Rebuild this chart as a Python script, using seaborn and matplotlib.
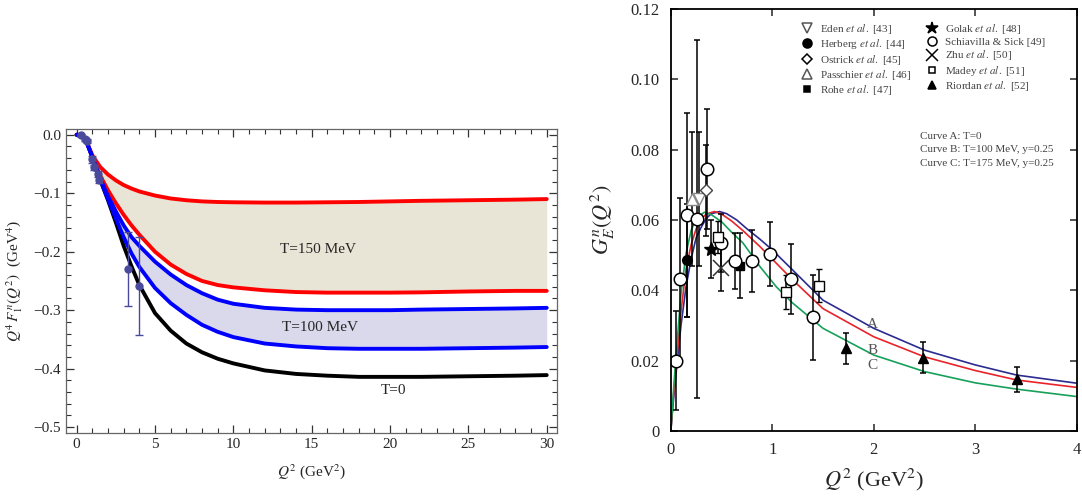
import matplotlib
matplotlib.use('Agg')
import matplotlib.pyplot as plt
import seaborn as sns
import pandas as pd
import numpy as np
from matplotlib.ticker import MultipleLocator, FuncFormatter
from matplotlib.lines import Line2D

# ---------- left panel: Q^4 F1n(Q^2) ----------
q2_left = [0, 0.3, 0.6, 1.0, 1.5, 2.0, 2.5, 3.0, 3.5, 4.0, 5.0, 6.0, 7.0, 8.0, 9.0,
           10, 12, 14, 16, 18, 20, 22, 25, 28, 30]
f1_t0 = [0, -0.001, -0.010, -0.038, -0.077, -0.112, -0.150, -0.190, -0.225, -0.257, -0.305,
         -0.335, -0.357, -0.372, -0.383, -0.391, -0.403, -0.409, -0.412, -0.414, -0.414,
         -0.414, -0.413, -0.412, -0.411]
f1_t150_up = [0, -0.001, -0.010, -0.035, -0.055, -0.068, -0.078, -0.086, -0.092, -0.097, -0.104,
              -0.109, -0.112, -0.114, -0.115, -0.1155, -0.116, -0.116, -0.1155, -0.115, -0.114,
              -0.113, -0.112, -0.111, -0.110]
f1_t150_lo = [0, -0.001, -0.010, -0.038, -0.070, -0.095, -0.117, -0.137, -0.155, -0.171, -0.200,
              -0.222, -0.238, -0.250, -0.257, -0.261, -0.266, -0.269, -0.270, -0.270, -0.270,
              -0.2695, -0.268, -0.267, -0.267]
f1_t100_up = [0, -0.001, -0.010, -0.038, -0.075, -0.105, -0.131, -0.155, -0.175, -0.190, -0.217,
              -0.239, -0.257, -0.271, -0.282, -0.289, -0.296, -0.299, -0.300, -0.300, -0.300,
              -0.299, -0.298, -0.297, -0.296]
f1_t100_lo = [0, -0.001, -0.010, -0.038, -0.076, -0.110, -0.143, -0.175, -0.203, -0.226, -0.262,
              -0.288, -0.308, -0.325, -0.337, -0.346, -0.357, -0.362, -0.365, -0.366, -0.366,
              -0.366, -0.365, -0.364, -0.363]

pts_x = [0.28, 0.53, 0.68, 1.00, 1.12, 1.34, 1.45, 3.28, 4.00]
pts_y = [0.000, -0.007, -0.011, -0.042, -0.056, -0.067, -0.077, -0.229, -0.259]
pts_err = [0.002, 0.003, 0.003, 0.006, 0.005, 0.005, 0.005, 0.063, 0.084]

# ---------- right panel: G_E^n(Q^2) ----------
qa = [0, 0.02, 0.05, 0.1, 0.15, 0.2, 0.25, 0.3, 0.35, 0.4, 0.48, 0.55, 0.65, 0.75, 0.88,
      1.0, 1.2, 1.5, 2.0, 2.5, 3.0, 3.41, 4.0]
ge_a = [0, 0.007, 0.016, 0.030, 0.041, 0.049, 0.055, 0.058, 0.0605, 0.0618, 0.0624, 0.0618,
        0.0600, 0.0575, 0.0545, 0.0515, 0.0458, 0.0372, 0.0292, 0.0230, 0.0188, 0.0159, 0.0136]
qb = [0, 0.02, 0.05, 0.1, 0.15, 0.2, 0.25, 0.3, 0.35, 0.43, 0.5, 0.6, 0.71, 0.88, 1.04,
      1.2, 1.5, 2.0, 2.5, 3.0, 3.41, 4.0]
ge_b = [0, 0.008, 0.018, 0.034, 0.046, 0.053, 0.0575, 0.0603, 0.0617, 0.0624, 0.0617, 0.0597,
        0.0570, 0.0524, 0.0477, 0.0430, 0.0348, 0.0268, 0.0211, 0.0172, 0.0145, 0.0124]
qc = [0, 0.02, 0.05, 0.1, 0.15, 0.2, 0.25, 0.33, 0.4, 0.5, 0.6, 0.71, 0.88, 1.04, 1.2,
      1.5, 2.0, 2.5, 3.0, 3.41, 4.0]
ge_c = [0, 0.009, 0.021, 0.039, 0.0505, 0.057, 0.0605, 0.0622, 0.0615, 0.0595, 0.0565, 0.0535,
        0.0467, 0.0410, 0.0364, 0.0292, 0.0216, 0.0169, 0.0137, 0.0119, 0.0098]

# experiments
eden_x, eden_y, eden_e = [0.276], [0.066], [0.019]
herberg_x, herberg_y, herberg_e = [0.164], [0.0485], [0.016]
ostrick_x, ostrick_y, ostrick_e = [0.35], [0.0684], [0.013]
passchier_x, passchier_y, passchier_e = [0.21], [0.066], [0.019]
rohe_x, rohe_y, rohe_e = [0.68], [0.047], [0.0092]
golak_x, golak_y, golak_e = [0.40], [0.0517], [0.0083]
schiav_x = [0.046, 0.095, 0.164, 0.26, 0.36, 0.49, 0.63, 0.80, 0.975, 1.18, 1.40]
schiav_y = [0.020, 0.0432, 0.0613, 0.0603, 0.0745, 0.0534, 0.0484, 0.0484, 0.0503, 0.0432, 0.0323]
schiav_e = [0.014, 0.023, 0.029, 0.051, 0.017, 0.0083, 0.0080, 0.0088, 0.0092, 0.010, 0.012]
zhu_x, zhu_y, zhu_e = [0.49], [0.0463], [0.0066]
madey_x = [0.46, 1.14, 1.46]
madey_y = [0.0552, 0.0396, 0.0413]
madey_e = [0.0045, 0.0048, 0.0047]
riordan_x = [1.73, 2.49, 3.41]
riordan_y = [0.0235, 0.0209, 0.0147]
riordan_e = [0.0045, 0.0044, 0.0035]

sns.set_theme(style='ticks')
plt.rcParams['font.family'] = ['Liberation Serif', 'DejaVu Serif']
plt.rcParams['mathtext.fontset'] = 'stix'

fig = plt.figure(figsize=(10.82, 5.0), dpi=100)
ax1 = fig.add_axes([0.061, 0.134, 0.454, 0.608])
ax2 = fig.add_axes([0.620, 0.138, 0.375, 0.844])

# ----- left -----
df_left = pd.DataFrame({'q2': q2_left, 't0': f1_t0, 'a_up': f1_t150_up, 'a_lo': f1_t150_lo,
                        'b_up': f1_t100_up, 'b_lo': f1_t100_lo})
ax1.fill_between(df_left['q2'], df_left['a_up'], df_left['a_lo'], color='#e9e5d6', lw=0)
ax1.fill_between(df_left['q2'], df_left['b_up'], df_left['b_lo'], color='#d9d9eb', lw=0)
sns.lineplot(data=df_left, x='q2', y='t0', ax=ax1, color='black', lw=2.8)
for col, c in [('a_up', '#ff0000'), ('a_lo', '#ff0000'), ('b_up', '#0000ff'), ('b_lo', '#0000ff')]:
    sns.lineplot(data=df_left, x='q2', y=col, ax=ax1, color=c, lw=2.8)
ax1.errorbar(pts_x, pts_y, yerr=pts_err, fmt='o', color='#4a4a9c', ms=5, capsize=3, elinewidth=1)

ax1.text(15.4, -0.197, 'T=150 MeV', fontsize=11, ha='center', va='center')
ax1.text(15.5, -0.329, 'T=100 MeV', fontsize=11, ha='center', va='center')
ax1.text(20.2, -0.438, 'T=0', fontsize=11, ha='center', va='center')

ax1.set_xlim(-0.68, 30.67)
ax1.set_ylim(-0.510, 0.0098)
ax1.xaxis.set_major_locator(MultipleLocator(5))
ax1.xaxis.set_minor_locator(MultipleLocator(1))
ax1.yaxis.set_major_locator(MultipleLocator(0.1))
ax1.yaxis.set_minor_locator(MultipleLocator(0.02))
ax1.yaxis.set_major_formatter(FuncFormatter(lambda v, p: ('%.1f' % (v + 0.0)).replace('-', '\u2212')))
ax1.tick_params(which='both', direction='in', top=True, right=True, labelsize=11, color='#333333')
ax1.tick_params(which='major', length=6, width=0.9)
ax1.tick_params(which='minor', length=3.5, width=0.8)
for s in ax1.spines.values():
    s.set_color('#666666')
    s.set_linewidth(0.9)
ax1.set_xlabel('$Q^2$ (GeV$^2$)', fontsize=11, labelpad=8)
ax1.set_ylabel('$Q^4\\,F_1^{\\,n}(Q^2)$  (GeV$^4$)', fontsize=11, labelpad=6)

# ----- right -----
df_right = pd.concat([
    pd.DataFrame({'q2': qa, 'ge': ge_a, 'curve': 'A'}),
    pd.DataFrame({'q2': qb, 'ge': ge_b, 'curve': 'B'}),
    pd.DataFrame({'q2': qc, 'ge': ge_c, 'curve': 'C'}),
])
sns.lineplot(data=df_right, x='q2', y='ge', hue='curve', ax=ax2, lw=1.2, legend=False,
             palette={'A': '#2b2b90', 'B': '#e8232a', 'C': '#17a05a'}, sort=False)

ekw = dict(color='black', ecolor='black', capsize=2.5, elinewidth=1.1, capthick=1.1, ls='none')
ax2.errorbar(eden_x, eden_y, yerr=eden_e, marker='v', ms=8, mfc='white', mec='#888888', **ekw)
ax2.errorbar(passchier_x, passchier_y, yerr=passchier_e, marker='^', ms=8, mfc='white', mec='#888888', **ekw)
ax2.errorbar(herberg_x, herberg_y, yerr=herberg_e, marker='o', ms=7, mfc='black', mec='black', **ekw)
ax2.errorbar(ostrick_x, ostrick_y, yerr=ostrick_e, marker='D', ms=6, mfc='white', mec='#444444', **ekw)
ax2.errorbar(rohe_x, rohe_y, yerr=rohe_e, marker='s', ms=6, mfc='black', mec='black', **ekw)
ax2.errorbar(golak_x, golak_y, yerr=golak_e, marker='*', ms=10, mfc='black', mec='black', **ekw)
ax2.errorbar(zhu_x, zhu_y, yerr=zhu_e, marker='x', ms=12, mec='#333333', mew=1.1, **ekw)
ax2.errorbar(schiav_x, schiav_y, yerr=schiav_e, marker='o', ms=9, mfc='white', mec='black', mew=1.1, **ekw)
ax2.errorbar(madey_x, madey_y, yerr=madey_e, marker='s', ms=7, mfc='white', mec='black', mew=1.0, **ekw)
ax2.errorbar(riordan_x, riordan_y, yerr=riordan_e, marker='^', ms=7, mfc='black', mec='black', **ekw)

ax2.text(1.99, 0.0304, 'A', fontsize=11, color='#555555', ha='center', va='center')
ax2.text(1.99, 0.0230, 'B', fontsize=11, color='#555555', ha='center', va='center')
ax2.text(1.99, 0.0185, 'C', fontsize=11, color='#555555', ha='center', va='center')
ax2.text(2.46, 0.0838, 'Curve A: T=0', fontsize=8, color='#444444', va='center')
ax2.text(2.46, 0.0800, 'Curve B: T=100 MeV, y=0.25', fontsize=8, color='#444444', va='center')
ax2.text(2.46, 0.0762, 'Curve C: T=175 MeV, y=0.25', fontsize=8, color='#444444', va='center')

def lh(marker, ms, mfc, mec):
    return Line2D([], [], ls='none', marker=marker, ms=ms, mfc=mfc, mec=mec, mew=1.1)

handles = [lh('v', 7, 'white', '#555555'), lh('o', 6.5, 'black', 'black'), lh('D', 5.5, 'white', 'black'),
           lh('^', 7, 'white', '#555555'), lh('s', 5, 'black', 'black'),
           lh('*', 9, 'black', 'black'), lh('o', 6.5, 'white', 'black'), lh('x', 9, 'black', 'black'),
           lh('s', 5, 'white', 'black'), lh('^', 6, 'black', 'black')]
labels = ['Eden $\\mathit{et\\ al.}$ [43]', 'Herberg $\\mathit{et\\ al.}$ [44]',
          'Ostrick $\\mathit{et\\ al.}$ [45]', 'Passchier $\\mathit{et\\ al.}$ [46]',
          'Rohe $\\mathit{et\\ al.}$ [47]', 'Golak $\\mathit{et\\ al.}$ [48]',
          'Schiavilla & Sick [49]', 'Zhu $\\mathit{et\\ al.}$ [50]',
          'Madey $\\mathit{et\\ al.}$ [51]', 'Riordan $\\mathit{et\\ al.}$ [52]']
leg = ax2.legend(handles, labels, ncol=2, loc='upper left', bbox_to_anchor=(0.29, 0.993),
                 frameon=False, fontsize=8, handletextpad=0.4, columnspacing=1.2,
                 labelspacing=0.12, handlelength=1.5)
for t in leg.get_texts():
    t.set_color('#444444')

ax2.set_xlim(0, 4)
ax2.set_ylim(0, 0.12)
ax2.xaxis.set_major_locator(MultipleLocator(1))
ax2.yaxis.set_major_locator(MultipleLocator(0.02))
ax2.yaxis.set_major_formatter(FuncFormatter(lambda v, p: '0' if abs(v) < 1e-9 else '%.2f' % v))
ax2.tick_params(direction='in', top=True, right=True, labelsize=12, length=5, width=1.1, pad=8)
for s in ax2.spines.values():
    s.set_color('black')
    s.set_linewidth(1.3)
ax2.set_xlabel('$Q^2$ (GeV$^2$)', fontsize=16, labelpad=6)
ax2.set_ylabel('$G_E^n(Q^2)$', fontsize=16, labelpad=10)

fig.savefig('out.png', dpi=100)
